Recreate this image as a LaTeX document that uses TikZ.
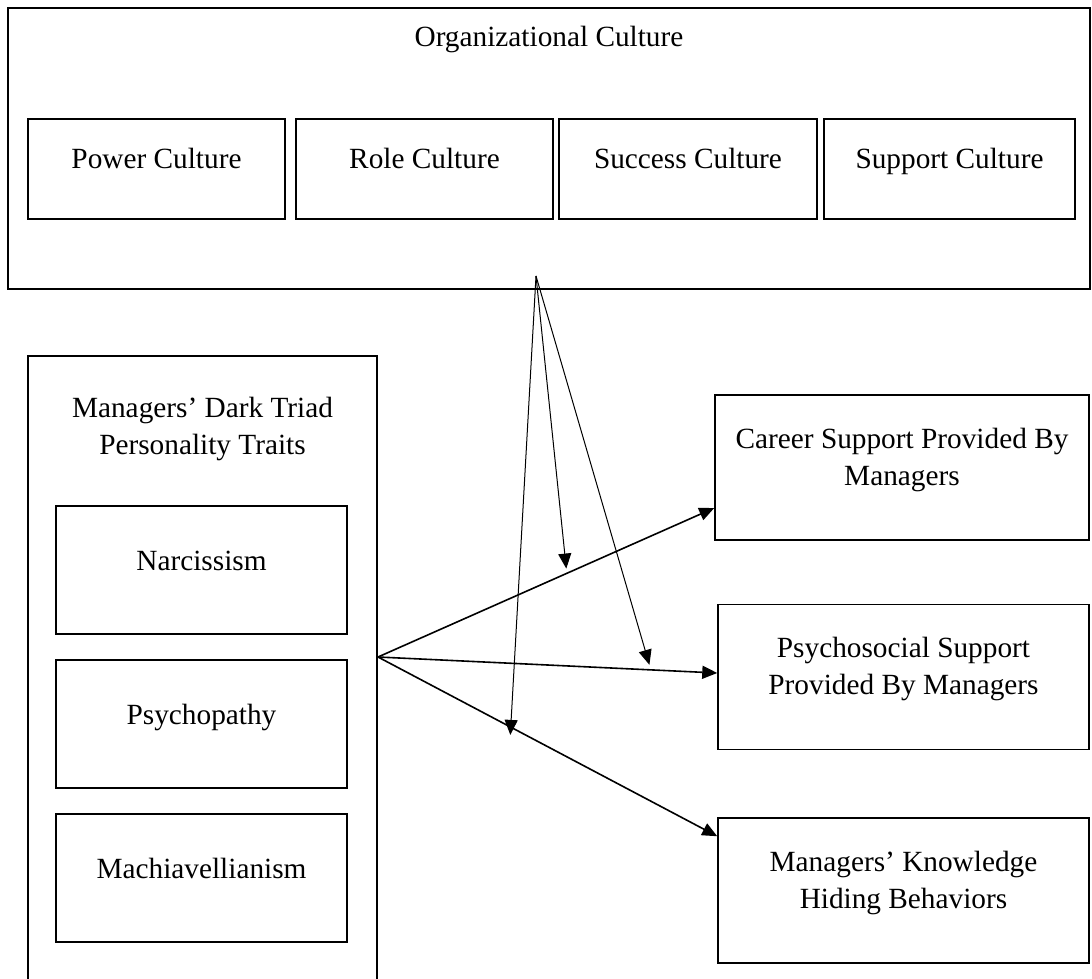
\documentclass[tikz,border=0pt]{standalone}
\usepackage{fontspec}
\setmainfont{Liberation Serif}
\usetikzlibrary{arrows.meta}

\tikzset{
	outerbox/.style={draw,line width=1pt,inner sep=0pt},
	culture/.style={draw,line width=0.65pt,minimum height=50pt,inner sep=0pt},
	trait/.style={draw,line width=1.15pt,minimum width=145.5pt,minimum height=64pt,inner sep=0pt},
	outcome/.style={draw,line width=0.75pt,minimum height=72.5pt,inner sep=0pt},
	txt/.style={yshift=4pt,align=center,inner sep=0pt},
	oneline/.style={yshift=5pt,inner sep=0pt,text height=10pt,text depth=0pt},
	title/.style={anchor=center,align=center,inner sep=0pt},
}

\begin{document}
\begin{tikzpicture}[x=0.5pt,y=-0.5pt,>={Triangle[length=7.5pt,width=6.5pt]},font=\fontsize{14.65}{18.5}\selectfont]

	\useasboundingbox (0,0) rectangle (1092,979);

	% organizational culture
	\node [outerbox,minimum width=541pt,minimum height=140.5pt,
		label={[title,yshift=-16pt]north:Organizational Culture}] (culture) at (549,148.5) {};
	\foreach \cx/\cw/\cname/\ctext in {156.5/128.5/power/Power Culture, 424.5/128.5/role/Role Culture,
			688/129/success/Success Culture, 949.5/125.5/support/Support Culture}
		\node [culture,minimum width=\cw pt,label={[oneline]center:\ctext}] (\cname) at (\cx,169) {};

	% dark triad (box runs off the bottom)
	\node [outerbox,minimum width=174.5pt,minimum height=319.5pt,
		label={[title,yshift=-37pt]north:Managers’ Dark Triad\\Personality Traits}] (traits) at (202.5,675.5) {};
	\foreach \ty/\tname/\ttext in {570/narc/Narcissism, 724/psycho/Psychopathy, 878/mach/Machiavellianism}
		\node [trait,label={[oneline]center:\ttext}] (\tname) at (201.5,\ty) {};

	% outcomes
	\node [outcome,minimum width=187pt,label={[txt]center:Career Support Provided By\\Managers}] (career) at (902,467.5) {};
	\node [outcome,minimum width=185.5pt,label={[txt]center:Psychosocial Support\\Provided By Managers}] (psysoc) at (903.5,677) {};
	\node [outcome,minimum width=185.5pt,label={[txt]center:Managers’ Knowledge\\Hiding Behaviors}] (hiding) at (903.5,890.5) {};

	% main effects
	\coordinate (fork) at ([yshift=9.25pt]traits.east);
	\draw [->,line width=0.8pt] (fork) -- coordinate[pos=0.56] (oncareer) ([yshift=-20.25pt]career.west);
	\draw [->,line width=0.8pt] (fork) -- coordinate[pos=0.8] (onpsysoc) ([yshift=2pt]psysoc.west);
	\draw [->,line width=0.8pt] (fork) -- coordinate[pos=0.39] (onhiding) ([yshift=-9.5pt]hiding.north west);

	% moderation by culture
	\coordinate (apex) at ([xshift=-6.5pt,yshift=7pt]culture.south);
	\draw [->,line width=0.5pt] (apex) -- ([yshift=2.5pt]oncareer);
	\draw [->,line width=0.5pt] (apex) -- ([yshift=2.5pt]onpsysoc);
	\draw [->,line width=0.5pt] (apex) -- ([yshift=-4pt]onhiding);

\end{tikzpicture}
\end{document}
